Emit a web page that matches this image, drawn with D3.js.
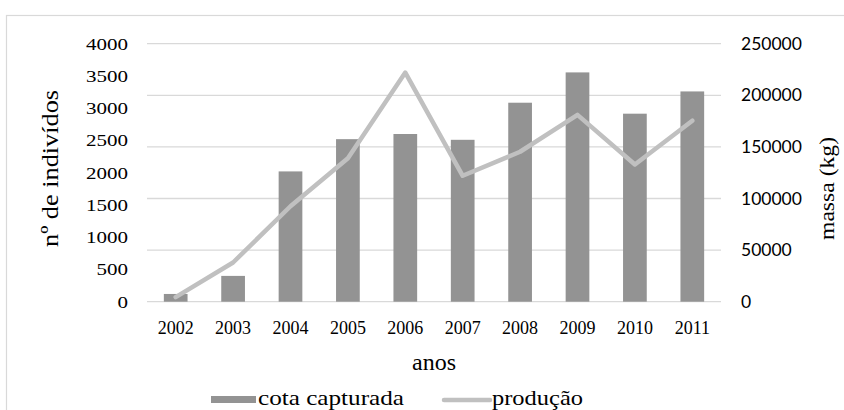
<!DOCTYPE html>
<html>
<head>
<meta charset="utf-8">
<script src="https://cdn.jsdelivr.net/npm/d3@7/dist/d3.min.js"></script>
<style>
  html, body { margin: 0; padding: 0; background: #fff; }
  svg { display: block; }
</style>
</head>
<body>
<svg id="chart" width="844" height="410"></svg>
<script>
// Anos da série
const anos = ["2002", "2003", "2004", "2005", "2006", "2007", "2008", "2009", "2010", "2011"];
// Cota capturada (nº de indivíduos) — eixo esquerdo
const cotaCapturada = [120, 400, 2020, 2520, 2600, 2510, 3085, 3555, 2915, 3260];
// Produção (massa em kg) — eixo direito
const producao = [4500, 38000, 92500, 139000, 222000, 122000, 145300, 181000, 133000, 175400];
// Marcas dos eixos
const ticksEsq = [0, 500, 1000, 1500, 2000, 2500, 3000, 3500, 4000];
const ticksDir = [0, 50000, 100000, 150000, 200000, 250000];

const svg = d3.select("#chart");
const plot = { left: 147, right: 721, top: 43.7, bottom: 301.7 };

const serif = "'Liberation Serif', 'Times New Roman', serif";
const sans = "Lato, 'Open Sans', sans-serif";
const corBarra = "#939393";
const corLinha = "#c0c0c0";
const corGrade = "#d9d9d9";
const fmt = d3.format("d");

// moldura do gráfico
svg.append("rect")
  .attr("x", 6.5).attr("y", 15.5)
  .attr("width", 900).attr("height", 500)
  .attr("fill", "none").attr("stroke", corGrade).attr("stroke-width", 1.2);

const x = d3.scaleBand().domain(anos)
  .range([plot.left, plot.right])
  .paddingInner(0.587).paddingOuter(0.2935);
const yEsq = d3.scaleLinear().domain([0, 4000]).range([plot.bottom, plot.top]);
const yDir = d3.scaleLinear().domain([0, 250000]).range([plot.bottom, plot.top]);

// linhas de grade (eixo secundário)
svg.append("g").selectAll("line").data(ticksDir).join("line")
  .attr("x1", plot.left).attr("x2", plot.right)
  .attr("y1", d => yDir(d)).attr("y2", d => yDir(d))
  .attr("stroke", corGrade).attr("stroke-width", 1.3);

// barras
svg.append("g").selectAll("rect").data(anos).join("rect")
  .attr("x", d => x(d))
  .attr("width", x.bandwidth())
  .attr("y", (d, i) => yEsq(cotaCapturada[i]))
  .attr("height", (d, i) => yEsq(0) - yEsq(cotaCapturada[i]))
  .attr("fill", corBarra);

// linha de produção
const linha = d3.line()
  .x((d, i) => x(anos[i]) + x.bandwidth() / 2)
  .y(d => yDir(d));
svg.append("path").datum(producao)
  .attr("d", linha)
  .attr("fill", "none").attr("stroke", corLinha)
  .attr("stroke-width", 4.5)
  .attr("stroke-linecap", "round").attr("stroke-linejoin", "round");

// eixo esquerdo
const eixoEsq = svg.append("g")
  .attr("transform", `translate(128,0)`)
  .call(d3.axisLeft(yEsq).tickValues(ticksEsq).tickFormat(fmt).tickSize(0).tickPadding(0));
eixoEsq.select(".domain").remove();
eixoEsq.selectAll("text")
  .attr("font-family", serif).attr("font-size", 17).attr("fill", "#000")
  .attr("textLength", d => fmt(d).length * 10.5)
  .attr("lengthAdjust", "spacingAndGlyphs");

// eixo direito
const eixoDir = svg.append("g")
  .attr("transform", `translate(741,0)`)
  .call(d3.axisRight(yDir).tickValues(ticksDir).tickFormat(fmt).tickSize(0).tickPadding(0));
eixoDir.select(".domain").remove();
eixoDir.selectAll("text")
  .attr("font-family", sans).attr("font-size", 17.5).attr("fill", "#000");

// eixo das categorias
const eixoX = svg.append("g")
  .attr("transform", `translate(0,${plot.bottom})`)
  .call(d3.axisBottom(x).tickSize(0).tickPadding(20));
eixoX.select(".domain").remove();
eixoX.selectAll("text")
  .attr("font-family", serif).attr("font-size", 18).attr("fill", "#000");

// títulos dos eixos
svg.append("text")
  .attr("transform", "translate(58,168.5) rotate(-90)")
  .attr("text-anchor", "middle")
  .attr("font-family", serif).attr("font-size", 24)
  .attr("textLength", 157).attr("lengthAdjust", "spacingAndGlyphs")
  .text("nº de indivídos");

svg.append("text")
  .attr("transform", "translate(834,188.5) rotate(-90)")
  .attr("text-anchor", "middle")
  .attr("font-family", serif).attr("font-size", 22)
  .attr("textLength", 103).attr("lengthAdjust", "spacingAndGlyphs")
  .text("massa (kg)");

svg.append("text")
  .attr("x", (plot.left + plot.right) / 2).attr("y", 370)
  .attr("text-anchor", "middle")
  .attr("font-family", serif).attr("font-size", 24)
  .text("anos");

// legenda
const leg = svg.append("g").attr("font-family", serif).attr("font-size", 22);
leg.append("rect")
  .attr("x", 211).attr("y", 396).attr("width", 45).attr("height", 7)
  .attr("fill", corBarra);
leg.append("text").attr("x", 258).attr("y", 405)
  .attr("textLength", 146).attr("lengthAdjust", "spacingAndGlyphs")
  .text("cota capturada");
leg.append("line")
  .attr("x1", 444).attr("x2", 490).attr("y1", 400).attr("y2", 400)
  .attr("stroke", corLinha).attr("stroke-width", 4.5).attr("stroke-linecap", "round");
leg.append("text").attr("x", 492).attr("y", 405)
  .attr("textLength", 91).attr("lengthAdjust", "spacingAndGlyphs")
  .text("produção");
</script>
</body>
</html>
